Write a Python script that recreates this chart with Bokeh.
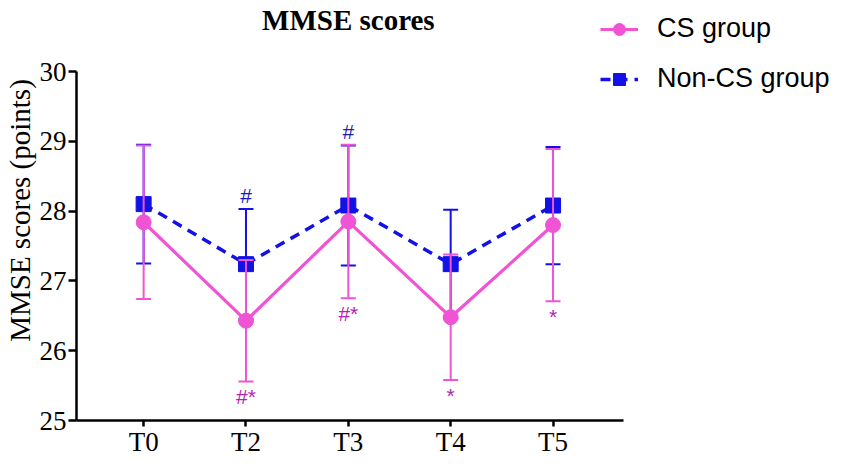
from bokeh.plotting import figure
from bokeh.models import FixedTicker, Legend, LegendItem, Label
from bokeh.embed import file_html
from bokeh.resources import INLINE
from bokeh.core.properties import value

# ---- data ----
timepoints = ["T0", "T2", "T3", "T4", "T5"]
cs_mean = [27.84, 26.43, 27.85, 26.48, 27.80]
cs_err = [1.10, 0.87, 1.10, 0.90, 1.09]
noncs_mean = [28.10, 27.24, 28.08, 27.24, 28.08]
noncs_err = [0.85, 0.79, 0.86, 0.78, 0.84]
noncs_marks = ["", "#", "#", "", ""]
cs_marks = ["", "#*", "#*", "*", "*"]
y_ticks = [25, 26, 27, 28, 29, 30]

# ---- styles ----
PINK = "#F053D4"
BLUE = "#1212E6"
PINK_TXT = "#B423B8"
BLUE_TXT = "#1C1CB4"
SERIF = "Liberation Serif"
SANS = "Liberation Sans"

x = list(range(len(timepoints)))

FIG_W, FIG_H = 835, 459
B = 420.0          # expected y of frame bottom (x axis) within the figure
Y30 = 71.0         # y of the 30 tick
ppu = (B - Y30) / 5.0
y_end = 25 + B / ppu

p = figure(width=FIG_W, height=FIG_H, output_backend="svg", toolbar_location=None,
           x_range=(-0.656, 6.76), y_range=(25, y_end),
           min_border_left=0, min_border_right=0, min_border_top=0, min_border_bottom=0)
p.outline_line_color = None
p.xgrid.visible = False
p.ygrid.visible = False

# axes
for ax in (p.xaxis[0], p.yaxis[0]):
    ax.axis_line_width = 2.5
    ax.axis_line_color = "black"
    ax.major_tick_line_width = 2.5
    ax.major_tick_line_color = "black"
    ax.major_tick_in = 0
    ax.minor_tick_line_color = None
    ax.major_label_text_font = SERIF
    ax.major_label_text_font_size = "27px"
    ax.major_label_text_color = "black"

p.xaxis.ticker = FixedTicker(ticks=x)
p.xaxis.major_label_overrides = {i: t for i, t in zip(x, timepoints)}
p.xaxis.bounds = (-0.656, 4.69)
p.xaxis.major_label_standoff = 0
p.xaxis.major_tick_out = 6

p.yaxis.ticker = FixedTicker(ticks=y_ticks)
p.yaxis.bounds = (25, 30)
p.yaxis.major_tick_out = 8
p.yaxis.major_label_standoff = 2
p.yaxis.axis_label = "MMSE scores (points)"
p.yaxis.axis_label_text_font = SERIF
p.yaxis.axis_label_text_font_size = "29px"
p.yaxis.axis_label_text_font_style = "normal"
p.yaxis.axis_label_text_color = "black"
p.yaxis.axis_label_standoff = 1

# ---- Non-CS group (drawn first) ----
nc_lo = [m - e for m, e in zip(noncs_mean, noncs_err)]
nc_hi = [m + e for m, e in zip(noncs_mean, noncs_err)]
p.segment(x0=x, y0=nc_lo, x1=x, y1=nc_hi, line_color=BLUE, line_width=2)
p.scatter(x=x + x, y=nc_lo + nc_hi, marker="dash", size=15, line_color=BLUE, line_width=2)
nc_line = p.line(x=x, y=noncs_mean, line_color=BLUE, line_width=3.5, line_dash="10 7")
nc_pts = p.scatter(x=x, y=noncs_mean, marker="square", size=15, fill_color=BLUE, line_color=BLUE)

# ---- CS group ----
cs_lo = [m - e for m, e in zip(cs_mean, cs_err)]
cs_hi = [m + e for m, e in zip(cs_mean, cs_err)]
p.segment(x0=x, y0=cs_lo, x1=x, y1=cs_hi, line_color=PINK, line_width=2)
p.scatter(x=x + x, y=cs_lo + cs_hi, marker="dash", size=15, line_color=PINK, line_width=2)
cs_line = p.line(x=x, y=cs_mean, line_color=PINK, line_width=3.2)
cs_pts = p.scatter(x=x, y=cs_mean, marker="circle", size=15, fill_color=PINK, line_color=PINK)

# ---- significance marks ----
OFF_UP = 0.20
OFF_DN = 0.22
nc_tx = [xi for xi, m in zip(x, noncs_marks) if m]
nc_ty = [h + OFF_UP for h, m in zip(nc_hi, noncs_marks) if m]
nc_tt = [m for m in noncs_marks if m]
p.text(x=nc_tx, y=nc_ty, text=nc_tt, text_font=value(SANS), text_font_size=value("21px"),
       text_align="center", text_baseline="middle", text_color=BLUE_TXT)
cs_tx = [xi for xi, m in zip(x, cs_marks) if m]
cs_ty = [lo - OFF_DN for lo, m in zip(cs_lo, cs_marks) if m]
cs_tt = [m for m in cs_marks if m]
p.text(x=cs_tx, y=cs_ty, text=cs_tt, text_font=value(SANS), text_font_size=value("21px"),
       text_align="center", text_baseline="middle", text_color=PINK_TXT)

# ---- title ----
title = Label(x=2, y=30 + (Y30 - 19) / ppu, text="MMSE scores", text_align="center",
              text_baseline="middle", text_font=SERIF, text_font_style="bold",
              text_font_size="29px", text_color="black")
p.add_layout(title)

# ---- legend ----
legend = Legend(items=[LegendItem(label="CS group", renderers=[cs_line, cs_pts]),
                       LegendItem(label="Non-CS group", renderers=[nc_line, nc_pts])],
                location=(524, B - 94), label_text_font=SANS, label_text_font_size="27px",
                label_text_color="black", glyph_width=38, glyph_height=30, label_height=30,
                spacing=19, padding=0, margin=0, label_standoff=19,
                border_line_color=None, background_fill_alpha=0)
p.add_layout(legend)

open("out.html", "w").write(file_html(p, INLINE))
